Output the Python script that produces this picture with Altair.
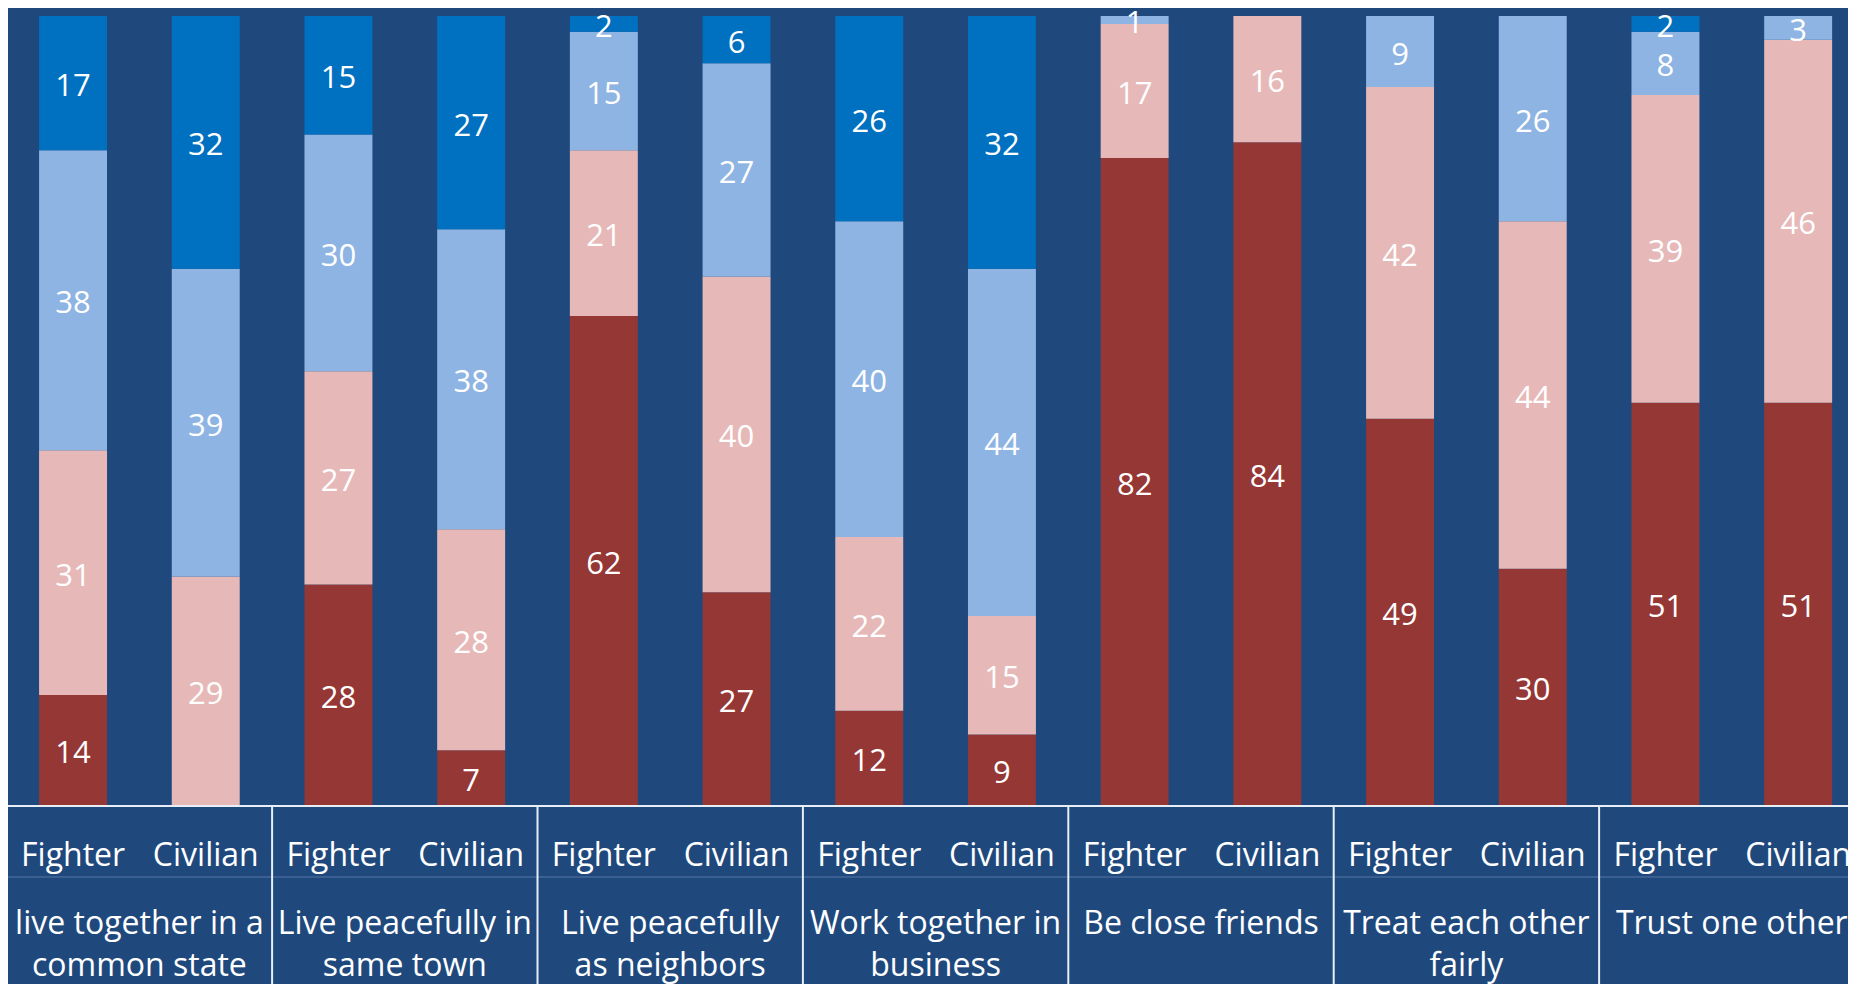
import altair as alt
import pandas as pd

# ---- data ----
respondents = ["Fighter", "Civilian"]
line1 = ["live together in a", "Live peacefully in", "Live peacefully", "Work together in",
         "Be close friends", "Treat each other", "Trust one other"]
line2 = ["common state", "same town", "as neighbors", "business", "", "fairly", ""]

series = ["s1", "s2", "s3", "s4"]  # bottom to top
dark_red = [14, 0, 28, 7, 62, 27, 12, 9, 82, 84, 49, 30, 51, 51]
pink = [31, 29, 27, 28, 21, 40, 22, 15, 17, 16, 42, 44, 39, 46]
light_blue = [38, 39, 30, 38, 15, 27, 40, 44, 1, 0, 9, 26, 8, 3]
blue = [17, 32, 15, 27, 2, 6, 26, 32, 0, 0, 0, 0, 2, 0]
colors = ["#953735", "#E6B9B8", "#8EB4E3", "#0070C0"]

BG = "#1F497D"
FONT = "Open Sans"

rows = []
for s_i, vals in enumerate([dark_red, pink, light_blue, blue]):
    for b, v in enumerate(vals):
        rows.append({"idx": b, "series": series[s_i], "order": s_i, "value": v})
df = pd.DataFrame(rows)

bars_df = pd.DataFrame({"idx": list(range(14)),
                        "who": [respondents[i % 2] for i in range(14)]})
groups_df = pd.DataFrame({"idx": [2 * g for g in range(7)],
                          "l1": line1, "l2": line2})

W = 1840
step = 132.7
x_scale = alt.Scale(range=[-1.3, -1.3 + 14 * step], paddingInner=0.488, paddingOuter=0.244)
y_scale = alt.Scale(domain=[0, 100], range=[797.5, 8], nice=False, zero=True)
X = alt.X("idx:O", axis=None, scale=x_scale)

base = alt.Chart(df).transform_stack(
    stack="value", groupby=["idx"], sort=[alt.SortField("order", order="ascending")],
    as_=["y0", "y1"]
).transform_calculate(mid="(datum.y0 + datum.y1) / 2")

bars = base.mark_bar().encode(
    x=X,
    y=alt.Y("y0:Q", scale=y_scale, axis=None),
    y2="y1:Q",
    color=alt.Color("series:N", scale=alt.Scale(domain=series, range=colors), legend=None),
)

labels = base.transform_filter("datum.value > 0").mark_text(
    font=FONT, fontSize=31, color="#FFFFFF", baseline="middle", align="center", dy=4
).encode(
    x=X,
    y=alt.Y("mid:Q", scale=y_scale, axis=None),
    text="value:Q",
)

# table lines
hline = alt.Chart(bars_df).mark_rule(color="#E8EEF6", strokeWidth=2).encode(
    x=alt.value(-1.3), x2=alt.value(W), y=alt.value(798)
)
faint = alt.Chart(bars_df).mark_rule(color="#3D6091", strokeWidth=1).encode(
    x=alt.value(-1.3), x2=alt.value(W), y=alt.value(869)
)
vlines = alt.Chart(groups_df).mark_rule(color="#E8EEF6", strokeWidth=2, xOffset=-step / 2).encode(
    x=X, y=alt.value(798), y2=alt.value(976)
)

TS = 32
who_text = alt.Chart(bars_df).mark_text(
    font=FONT, fontSize=TS, color="#FFFFFF", baseline="alphabetic", align="center"
).encode(x=X, y=alt.value(858), text="who:N")

cat1 = alt.Chart(groups_df).mark_text(
    font=FONT, fontSize=TS, color="#FFFFFF", baseline="alphabetic", align="center", xOffset=step / 2
).encode(x=X, y=alt.value(926), text="l1:N")
cat2 = alt.Chart(groups_df).mark_text(
    font=FONT, fontSize=TS, color="#FFFFFF", baseline="alphabetic", align="center", xOffset=step / 2
).encode(x=X, y=alt.value(968), text="l2:N")

chart = alt.layer(bars, labels, hline, faint, vlines, who_text, cat1, cat2).properties(
    width=W, height=976,
    autosize=alt.AutoSizeParams(type="none"),
    padding=0,
    background=BG,
).configure_view(stroke=None)

chart.save("out.html", embed_options={"renderer": "svg", "actions": False})
